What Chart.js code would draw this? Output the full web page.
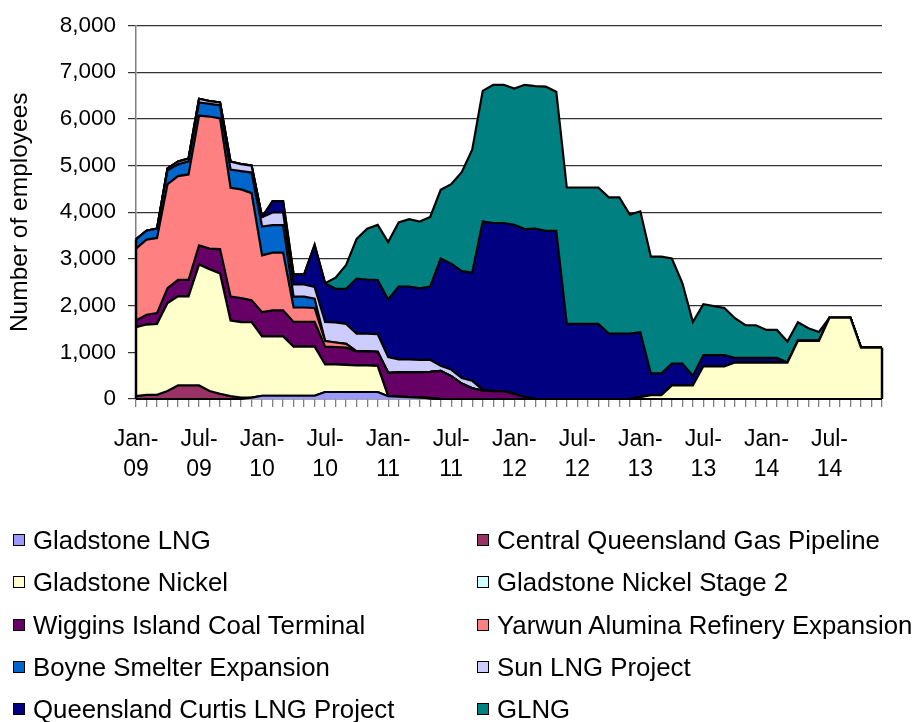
<!DOCTYPE html>
<html><head><meta charset="utf-8">
<script src="https://cdn.jsdelivr.net/npm/chart.js@4.4.1/dist/chart.umd.min.js"></script>
<style>
html,body{margin:0;padding:0;background:#fff;}
#wrap{position:relative;width:918px;height:722px;overflow:hidden;}
#c{position:absolute;left:0;top:0;}
#legend{position:absolute;left:0;top:0;width:918px;height:722px;font-family:"Liberation Sans",Arial,sans-serif;font-size:25.8px;color:#000;pointer-events:none;}
.item{position:absolute;display:flex;align-items:center;white-space:nowrap;line-height:30px;height:30px;}
.box{width:10px;height:10px;border:1.5px solid #000;margin-right:8px;flex:none;}
</style></head>
<body><div id="wrap"><canvas id="c" width="918" height="500"></canvas><div id="legend"></div></div>
<script>
const categories = [
"Jan-09","Feb-09","Mar-09","Apr-09","May-09","Jun-09","Jul-09","Aug-09","Sep-09","Oct-09","Nov-09","Dec-09",
"Jan-10","Feb-10","Mar-10","Apr-10","May-10","Jun-10","Jul-10","Aug-10","Sep-10","Oct-10","Nov-10","Dec-10",
"Jan-11","Feb-11","Mar-11","Apr-11","May-11","Jun-11","Jul-11","Aug-11","Sep-11","Oct-11","Nov-11","Dec-11",
"Jan-12","Feb-12","Mar-12","Apr-12","May-12","Jun-12","Jul-12","Aug-12","Sep-12","Oct-12","Nov-12","Dec-12",
"Jan-13","Feb-13","Mar-13","Apr-13","May-13","Jun-13","Jul-13","Aug-13","Sep-13","Oct-13","Nov-13","Dec-13",
"Jan-14","Feb-14","Mar-14","Apr-14","May-14","Jun-14","Jul-14","Aug-14","Sep-14","Oct-14","Nov-14","Dec-14"];
const tickLabels = ["Jan-09","Jul-09","Jan-10","Jul-10","Jan-11","Jul-11","Jan-12","Jul-12","Jan-13","Jul-13","Jan-14","Jul-14"];
const yTicks = [0,1000,2000,3000,4000,5000,6000,7000,8000];

const gladstoneLNG = [0,0,0,0,0,0,0,0,0,0,0,30,
70,70,70,70,70,70,150,150,150,150,150,150,
60,50,40,30,20,0,0,0,0,0,0,0,
0,0,0,0,0,0,0,0,0,0,0,0,
0,0,0,0,0,0,0,0,0,0,0,0,
0,0,0,0,0,0,0,0,0,0,0,0];
const cqGasPipeline = [60,90,90,170,290,290,290,170,110,60,30,0,
0,0,0,0,0,0,0,0,0,0,0,0,
0,0,0,0,0,0,0,0,0,0,0,0,
0,0,0,0,0,0,0,0,0,0,0,0,
0,0,0,0,0,0,0,0,0,0,0,0,
0,0,0,0,0,0,0,0,0,0,0,0];
const gladstoneNickel = [1480,1505,1520,1885,1910,1910,2590,2610,2580,1620,1615,1615,
1270,1270,1270,1050,1050,1050,590,590,580,570,570,560,
0,0,0,0,0,0,0,0,0,0,0,0,
0,0,0,0,0,0,0,0,0,0,0,0,
40,80,80,290,290,290,700,700,700,780,780,780,
780,780,780,1245,1245,1245,1740,1740,1740,1100,1100,1100];
const gladstoneNickel2 = [0,0,0,0,0,0,0,0,0,0,0,0,
0,0,0,0,0,0,0,0,0,0,0,0,
0,0,0,0,0,0,0,0,0,0,0,0,
0,0,0,0,0,0,0,0,0,0,0,0,
0,0,0,0,0,0,0,0,0,0,0,0,
0,0,0,0,0,0,0,0,0,0,0,0];
const wigginsIsland = [140,210,230,320,350,350,410,440,520,515,515,470,
520,560,560,530,530,530,380,370,370,300,300,300,
500,520,530,540,560,600,490,330,230,180,170,170,
110,40,0,0,0,0,0,0,0,0,0,0,
0,0,0,0,0,0,0,0,0,0,0,0,
0,0,0,0,0,0,0,0,0,0,0,0];
const yarwun = [1540,1610,1610,2225,2225,2260,2780,2830,2800,2330,2330,2295,
1215,1235,1235,310,310,300,120,100,80,0,0,0,
0,0,0,0,0,0,0,0,0,0,0,0,
0,0,0,0,0,0,0,0,0,0,0,0,
0,0,0,0,0,0,0,0,0,0,0,0,
0,0,0,0,0,0,0,0,0,0,0,0];
const boyneSmelter = [200,190,200,300,250,280,280,270,280,390,390,440,
620,590,590,233,233,200,0,0,0,0,0,0,
0,0,0,0,0,0,0,0,0,0,0,0,
0,0,0,0,0,0,0,0,0,0,0,0,
0,0,0,0,0,0,0,0,0,0,0,0,
0,0,0,0,0,0,0,0,0,0,0,0];
const sunLNG = [0,0,0,40,60,60,80,60,60,170,150,150,
200,270,270,260,260,250,410,430,430,380,380,380,
340,280,280,270,260,110,140,120,160,20,0,0,
0,0,0,0,0,0,0,0,0,0,0,0,
0,0,0,0,0,0,0,0,0,0,0,0,
0,0,0,0,0,0,0,0,0,0,0,0];
const qcLNG = [0,0,0,0,0,0,0,0,0,0,0,0,
0,245,245,217,217,900,830,720,750,1180,1160,1160,
1230,1560,1560,1530,1570,2300,2270,2290,2320,3600,3600,3600,
3620,3600,3650,3600,3600,1610,1610,1610,1610,1400,1400,1400,
1390,470,470,470,470,210,240,240,240,100,100,100,
100,100,0,0,0,0,0,0,0,0,0,0];
const glngMain = [0,0,0,0,0,0,0,0,0,0,0,0,
0,0,0,0,0,0,0,240,510,850,1090,1180,
1230,1370,1440,1430,1490,1470,1700,2120,2630,2800,2960,2960,
2920,3090,3050,3090,2980,2920,2920,2920,2920,2920,2920,2550,
2590,2500,2500,2250,1720,1150,1090,1050,1010,850,700,700,
600,600,450,400,270,190,0,0,0,0,0,0];

const seriesNames = ["Gladstone LNG","Central Queensland Gas Pipeline","Gladstone Nickel","Gladstone Nickel Stage 2","Wiggins Island Coal Terminal","Yarwun Alumina Refinery Expansion","Boyne Smelter Expansion","Sun LNG Project","Queensland Curtis LNG Project","GLNG"];
const seriesData = [gladstoneLNG,cqGasPipeline,gladstoneNickel,gladstoneNickel2,wigginsIsland,yarwun,boyneSmelter,sunLNG,qcLNG,glngMain];
const seriesColors = ["#9999FF","#993366","#FFFFCC","#CCFFFF","#660066","#FF8080","#0066CC","#CCCCFF","#000080","#008080"];

const FONT = "'Liberation Sans', Arial, sans-serif";

const edgePlugin = {
  id: 'edges',
  afterDatasetsDraw(chart) {
    const n = chart.data.datasets.length;
    const meta = chart.getDatasetMeta(n - 1);
    const y0 = chart.scales.y.getPixelForValue(0);
    const ctx = chart.ctx;
    ctx.save();
    ctx.strokeStyle = '#000';
    ctx.lineWidth = 2.5;
    [meta.data[0], meta.data[meta.data.length - 1]].forEach(p => {
      ctx.beginPath();
      ctx.moveTo(p.x, y0);
      ctx.lineTo(p.x, p.y);
      ctx.stroke();
    });
    ctx.restore();
  }
};

const chart = new Chart(document.getElementById('c'), {
  type: 'line',
  data: {
    labels: categories,
    datasets: seriesData.map((d, i) => ({
      label: seriesNames[i],
      data: d,
      backgroundColor: seriesColors[i],
      borderColor: '#000',
      borderWidth: 2.2,
      pointRadius: 0,
      tension: 0,
      fill: i === 0 ? 'origin' : '-1',
      clip: 6
    }))
  },
  options: {
    responsive: false,
    animation: false,
    events: [],
    layout: { padding: { left: 0, right: 36, top: 21, bottom: 0 } },
    plugins: { legend: { display: false }, tooltip: { enabled: false } },
    scales: {
      x: {
        offset: false,
        grid: { display: true, drawOnChartArea: false, tickLength: 8, color: '#808080', lineWidth: 1.3 },
        border: { display: true, color: '#808080', width: 1.5 },
        ticks: {
          autoSkip: false, maxRotation: 0, minRotation: 0, padding: 17, color: '#000',
          font: { family: FONT, size: 23, lineHeight: 1.32 },
          callback: function(v, idx) {
            const lbl = categories[idx];
            if (tickLabels.indexOf(lbl) < 0) return '';
            const parts = lbl.split('-');
            return [parts[0] + '-', parts[1]];
          }
        },
        afterFit(scale) { scale.height = 101; }
      },
      y: {
        stacked: true,
        min: 0, max: 8000,
        afterBuildTicks(scale) { scale.ticks = yTicks.map(v => ({ value: v })); },
        grid: { color: '#333', lineWidth: 1.2, tickLength: 8 },
        border: { display: true, color: '#808080', width: 1.5 },
        ticks: {
          padding: 12, color: '#000', font: { family: FONT, size: 22.5 },
          callback: v => v.toLocaleString('en-US')
        },
        title: { display: true, text: 'Number of employees', color: '#000', font: { family: FONT, size: 24.5 }, padding: { top: 6, bottom: 0 } },
        afterFit(scale) { scale.width = 136; }
      }
    }
  },
  plugins: [edgePlugin]
});

// HTML legend in two columns
const legend = document.getElementById('legend');
chart.data.datasets.forEach((ds, i) => {
  const col = i % 2, row = Math.floor(i / 2);
  const item = document.createElement('div');
  item.className = 'item';
  item.style.left = (col === 0 ? 13 : 477) + 'px';
  item.style.top = (525 + row * 42.3) + 'px';
  const box = document.createElement('span');
  box.className = 'box';
  box.style.background = ds.backgroundColor;
  const txt = document.createElement('span');
  txt.textContent = ds.label;
  item.appendChild(box); item.appendChild(txt);
  legend.appendChild(item);
});
</script>
</body></html>
